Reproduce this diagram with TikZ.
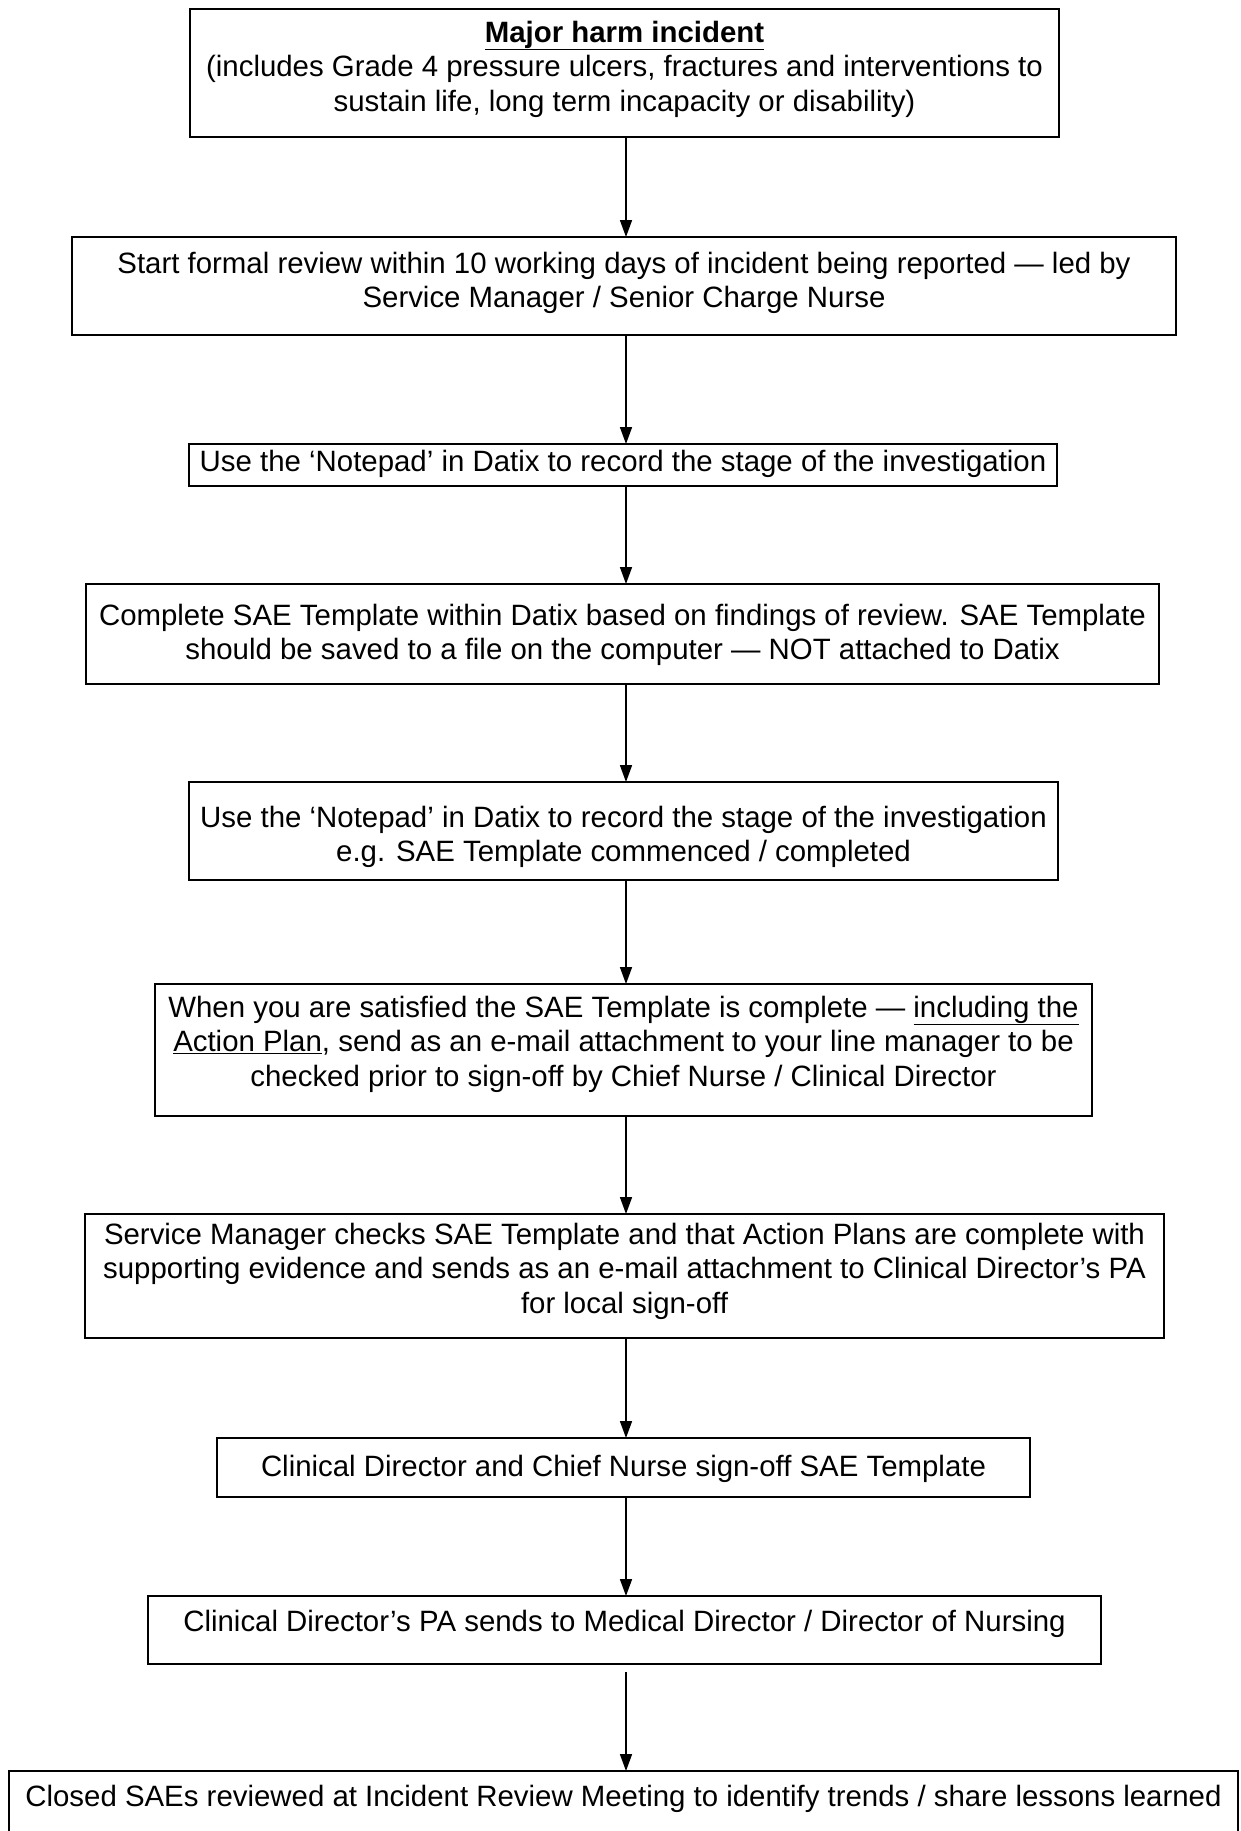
\documentclass[tikz,border=0pt]{standalone}
\usepackage{fontspec}
\setmainfont{Liberation Sans}
\usetikzlibrary{arrows.meta,calc}
\begin{document}
\begin{tikzpicture}[x=1pt,y=-1pt,
  stepbox/.style={draw=black,line width=2.8pt,rectangle,inner sep=0pt,outer sep=0pt},
  txt/.style={align=center,inner sep=0pt,font=\fontsize{29.4}{34.5}\selectfont},
  flow/.style={line width=1.7pt,-{Triangle[width=12pt,length=17pt]}}]
\useasboundingbox[fill=white] (0,0) rectangle (1240,1831);
\coordinate (ax) at (626,0);
% boxes
\node[stepbox,minimum width=869pt,minimum height=128pt] (b1) at (624.5,73) {};
\node[stepbox,minimum width=1104pt,minimum height=98pt] (b2) at (624,286) {};
\node[stepbox,minimum width=868pt,minimum height=42pt] (b3) at (623,465) {};
\node[stepbox,minimum width=1073pt,minimum height=100pt] (b4) at (622.5,634) {};
\node[stepbox,minimum width=869pt,minimum height=98pt] (b5) at (623.5,831) {};
\node[stepbox,minimum width=937pt,minimum height=132pt] (b6) at (623.5,1050) {};
\node[stepbox,minimum width=1079pt,minimum height=124pt] (b7) at (624.5,1276) {};
\node[stepbox,minimum width=813pt,minimum height=59pt] (b8) at (623.5,1467.5) {};
\node[stepbox,minimum width=953pt,minimum height=68pt] (b9) at (624.5,1630) {};
\node[stepbox,minimum width=1229pt,minimum height=80pt] (b10) at (623.5,1811) {};
% texts
\node[txt] (t1) at (624.5,69) {\textbf{\underline{Major harm incident}}\\(includes Grade 4 pressure ulcers, fractures and interventions to\\sustain life, long term incapacity or disability)};
\node[txt] (t2) at (624,283) {Start formal review within 10 working days of incident being reported — led by\\Service Manager / Senior Charge Nurse};
\node[txt] (t3) at (623,464) {Use the ‘Notepad’ in Datix to record the stage of the investigation};
\node[txt] (t4) at (622.5,635) {Complete SAE Template within Datix based on findings of review. SAE Template\\should be saved to a file on the computer — NOT attached to Datix};
\node[txt] (t5) at (623.5,837) {Use the ‘Notepad’ in Datix to record the stage of the investigation\\e.g. SAE Template commenced / completed};
\node[txt] (t6) at (623.5,1044) {When you are satisfied the SAE Template is complete — \underline{including the}\\\underline{Action Plan}, send as an e-mail attachment to your line manager to be\\checked prior to sign-off by Chief Nurse / Clinical Director};
\node[txt] (t7) at (624.5,1271) {Service Manager checks SAE Template and that Action Plans are complete with\\supporting evidence and sends as an e-mail attachment to Clinical Director’s PA\\for local sign-off};
\node[txt] (t8) at (623.5,1469) {Clinical Director and Chief Nurse sign-off SAE Template};
\node[txt] (t9) at (624.5,1624) {Clinical Director’s PA sends to Medical Director / Director of Nursing};
\node[txt] (t10) at (623.5,1799) {Closed SAEs reviewed at Incident Review Meeting to identify trends / share lessons learned};
% connectors
\foreach \a/\b in {b1/b2,b2/b3,b3/b4,b4/b5,b5/b6,b6/b7,b7/b8,b8/b9}
  \draw[flow] (\a.south -| ax) -- (\b.north -| ax);
\draw[flow,shorten <=8pt] (b9.south -| ax) -- (b10.north -| ax);
\end{tikzpicture}
\end{document}
